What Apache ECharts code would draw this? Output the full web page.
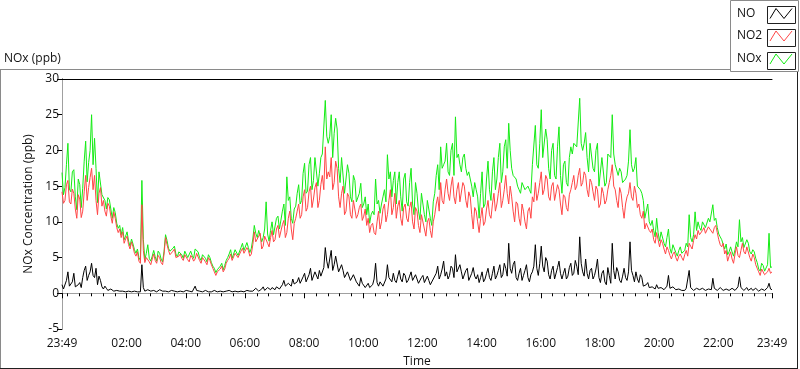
<!DOCTYPE html>
<html>
<head>
<meta charset="utf-8">
<script src="https://cdn.jsdelivr.net/npm/echarts@6/dist/echarts.min.js"></script>
<style>
html,body{margin:0;padding:0;background:#fff;}
#c{width:800px;height:369px;}
</style>
</head>
<body>
<div id="c"></div>
<script>
// Sampling: one value every 3 minutes from 23:49 (t=0) to 23:49 next day (t=1440)
const sampleStepMinutes = 3;

const seriesNames = ['NO', 'NO2', 'NOx'];

const NO = [
1.2,0.6,0.8,1.8,3.0,1.0,0.9,1.6,2.8,0.9,0.7,1.2,1.5,0.8,2.2,3.2,3.8,1.8,2.5,3.0,
4.2,2.5,2.2,3.5,1.2,2.4,1.8,0.9,0.6,1.0,0.7,0.4,0.4,0.6,0.4,0.3,0.3,0.4,0.3,0.3,
0.2,0.3,0.3,0.2,0.2,0.3,0.3,0.2,0.2,0.3,0.3,0.2,0.3,0.2,4.0,0.8,0.3,0.4,0.5,0.3,
0.3,0.2,0.4,0.3,0.2,0.4,0.5,0.3,0.3,0.2,0.3,0.4,0.2,0.3,0.4,0.2,0.3,0.3,0.2,0.4,
0.3,0.4,0.2,0.3,0.4,0.2,0.3,0.4,0.2,0.3,1.0,0.4,0.2,0.3,0.3,0.2,0.3,0.4,0.3,0.2,
0.3,0.2,0.2,0.4,0.3,0.2,0.2,0.3,0.3,0.2,0.4,0.3,0.2,0.4,0.3,0.2,0.2,0.3,0.3,0.2,
0.2,0.3,0.4,0.2,0.3,0.4,0.2,0.3,0.5,0.3,0.4,0.7,0.6,0.3,0.4,0.6,0.9,0.4,0.5,0.8,
0.6,0.5,0.8,0.6,0.5,0.9,1.0,0.6,0.7,1.2,1.8,1.0,0.9,1.4,1.5,1.0,2.0,1.3,1.2,1.6,
2.2,1.4,1.5,2.3,2.8,1.6,1.8,2.6,3.5,1.8,2.0,3.0,2.8,2.0,3.2,2.4,2.5,3.6,6.4,4.5,
3.5,4.8,6.0,3.2,4.0,5.2,5.0,3.0,2.8,4.0,3.2,2.2,2.0,3.0,2.8,1.8,1.8,2.6,2.4,1.6,
1.5,1.0,2.2,1.4,1.2,0.8,1.0,1.4,0.8,1.0,1.2,2.0,4.2,1.5,1.0,1.6,1.8,1.0,1.2,2.0,
4.0,2.2,2.0,1.6,2.8,1.8,1.5,2.4,3.2,2.0,1.6,2.8,2.5,1.5,1.8,2.4,3.0,1.8,1.6,2.6,
2.0,1.4,1.5,2.2,2.5,1.5,1.6,2.4,1.8,1.2,1.4,2.0,2.2,2.8,3.8,2.0,2.6,3.4,4.5,2.4,
3.0,2.0,2.5,3.8,3.5,2.2,5.4,3.0,2.8,4.0,3.0,2.0,2.2,3.2,3.5,1.8,2.0,2.8,3.6,2.4,
2.0,2.6,1.5,2.2,3.0,1.6,2.0,2.8,3.5,2.2,1.8,2.8,3.8,2.0,2.5,3.2,4.0,2.2,2.6,4.2,
3.5,2.4,7.0,3.5,2.8,4.0,4.5,2.2,1.8,2.8,3.5,1.8,2.5,3.2,4.0,2.2,1.6,2.6,3.0,3.8,
6.8,3.5,2.5,4.2,6.6,3.8,3.0,5.0,4.5,2.6,2.0,3.2,3.8,2.0,2.2,3.6,4.5,2.8,2.0,2.8,
3.5,2.0,2.4,3.6,4.2,2.5,2.8,4.6,3.8,2.6,7.9,4.2,3.0,2.4,4.8,2.8,2.0,3.2,3.5,2.0,
2.5,3.4,4.8,2.2,1.5,2.8,3.2,1.6,1.2,3.6,2.5,1.4,7.0,3.2,2.0,3.6,3.0,1.8,1.5,2.4,
3.5,2.2,1.8,3.0,7.2,3.2,2.5,1.6,3.0,2.0,1.5,2.6,2.2,1.0,0.8,1.2,1.5,0.8,0.6,0.9,
0.8,0.6,1.2,0.7,0.5,0.8,0.9,0.5,0.6,1.0,2.5,0.7,0.5,0.9,0.7,0.5,0.4,0.6,0.6,0.4,
0.5,0.4,0.7,0.9,3.2,0.8,0.6,0.4,0.5,0.7,0.8,0.5,0.4,0.7,0.6,0.4,0.5,0.6,0.7,0.5,
2.1,0.7,0.6,0.4,0.5,0.8,0.7,0.4,0.4,0.6,0.6,0.4,0.5,0.7,0.8,0.4,0.5,0.9,2.3,0.8,
0.6,0.4,0.6,0.8,0.4,0.6,0.7,0.4,0.5,0.7,0.6,0.3,0.4,0.6,0.5,0.4,0.6,0.8,1.4,0.6,0.5
];

const NO2 = [
14.2,12.6,13.0,15.2,15.8,12.8,12.5,14.6,14.0,11.8,10.5,13.8,13.2,10.6,11.5,14.2,16.5,13.0,14.8,16.2,
17.5,14.5,16.5,13.0,11.0,14.0,14.8,12.2,13.0,11.5,10.8,12.6,12.2,10.8,9.8,11.4,10.5,9.2,8.5,9.0,
7.8,8.6,7.0,7.6,8.0,6.8,6.2,7.2,6.5,5.6,5.2,5.8,4.5,4.2,12.4,6.0,4.3,5.0,5.2,4.4,
4.0,4.8,5.5,4.6,4.2,5.3,5.0,4.3,4.0,5.5,7.8,6.8,6.0,5.4,5.2,5.9,6.2,5.0,4.8,5.2,
5.5,4.9,4.6,5.4,5.2,4.7,4.4,5.3,5.0,4.5,4.8,5.6,5.5,4.6,4.2,5.0,5.2,4.4,4.0,5.0,
4.6,4.0,3.5,3.0,2.5,3.0,2.8,3.4,3.8,3.0,3.4,4.2,4.6,4.9,5.5,4.6,4.8,5.6,5.8,5.0,
5.2,5.9,6.3,5.6,5.4,6.4,6.0,5.2,5.5,6.8,8.6,7.2,7.0,8.0,8.4,6.2,6.6,8.0,7.8,7.0,
6.5,7.8,8.8,7.2,7.5,9.0,9.5,7.8,8.0,9.6,10.2,7.8,8.5,10.5,11.5,9.0,7.5,9.8,10.5,11.5,
12.5,10.5,11.0,13.5,14.5,11.5,12.0,14.2,15.0,12.0,13.2,14.8,15.5,12.0,13.0,15.2,16.5,14.5,20.5,16.0,
17.0,16.3,19.0,14.5,15.5,18.5,17.5,13.5,12.0,14.0,15.0,11.0,11.5,14.0,13.5,11.0,10.5,13.0,12.8,10.5,
11.0,12.0,12.5,10.2,10.8,11.8,9.5,10.5,8.5,9.5,9.8,8.5,8.2,10.0,11.5,9.0,10.0,11.8,12.5,10.0,
11.0,13.0,14.5,11.0,12.0,14.0,10.5,12.2,13.0,10.5,9.5,12.0,12.5,10.5,10.0,12.0,12.8,10.0,9.0,12.0,
11.5,9.5,8.5,11.0,10.8,9.0,8.0,10.0,10.5,8.8,7.8,10.0,11.0,12.5,13.5,11.5,15.5,13.0,12.5,14.5,
16.0,14.0,13.0,15.0,16.3,13.5,12.5,14.5,15.5,12.8,13.0,15.5,15.0,13.0,12.0,14.2,13.5,11.0,9.0,12.0,
11.5,10.0,8.5,10.5,12.0,9.5,10.0,11.8,13.0,11.0,10.5,12.5,14.0,11.5,12.5,14.0,15.5,12.0,13.0,14.5,
16.5,14.0,12.5,15.0,13.5,11.5,10.0,12.8,12.5,10.5,9.5,12.5,11.5,10.0,9.0,11.5,12.0,10.5,13.5,12.8,
15.5,13.0,14.0,15.5,17.0,13.8,14.5,16.5,16.0,13.5,13.0,15.0,15.5,13.0,12.8,15.2,14.5,12.5,11.0,13.8,
13.5,12.0,11.5,13.8,14.5,15.5,16.5,14.5,15.0,16.5,17.5,15.0,15.5,17.0,16.5,14.5,13.5,16.0,15.5,14.2,
13.0,15.0,14.5,12.0,12.5,14.8,14.0,12.5,13.0,14.5,15.5,16.5,18.0,15.0,14.5,13.0,12.0,14.8,14.0,12.0,
10.5,12.5,13.5,14.0,15.5,13.5,13.0,15.0,14.0,12.0,12.5,11.0,10.5,11.5,9.0,9.8,10.0,8.8,8.5,9.0,
7.5,7.0,8.5,7.5,6.5,7.5,7.0,6.2,5.5,6.5,6.0,5.3,4.8,5.5,5.8,5.0,4.5,5.2,5.5,5.0,
4.6,5.4,6.0,5.2,7.0,6.6,6.2,7.4,8.2,7.6,8.8,8.2,8.0,8.8,9.2,8.4,8.5,9.3,9.0,8.8,
8.4,9.2,9.5,8.5,7.5,6.8,6.5,7.0,5.5,6.0,4.5,5.2,5.8,4.8,4.2,5.5,6.5,5.3,5.0,6.0,
7.0,5.8,5.5,6.5,6.3,5.0,4.5,5.5,5.0,4.0,3.5,3.0,2.5,3.4,3.2,2.6,2.4,3.0,3.5,2.8,3.0
];

const NOx = [
16.9,13.8,14.8,18.0,21.0,14.6,14.2,17.0,17.3,13.5,11.7,16.0,15.2,12.0,14.7,18.5,21.3,15.6,18.3,20.0,
25.0,18.0,21.7,17.5,12.7,17.0,17.1,13.8,14.0,13.0,11.8,13.4,13.1,11.8,10.5,12.0,11.3,9.8,9.1,9.5,
8.2,9.2,7.5,8.0,8.6,7.3,6.6,7.6,6.9,6.1,5.6,6.2,5.0,4.6,15.8,7.5,4.7,5.6,6.8,4.9,
4.5,5.2,6.0,5.1,4.5,5.9,5.6,4.8,4.4,5.9,8.2,7.4,6.3,5.9,5.7,6.3,6.6,5.5,5.1,5.8,
5.9,5.4,4.9,5.9,5.7,5.0,4.8,5.9,5.3,4.9,6.2,6.2,5.8,5.0,4.6,5.4,5.6,4.9,4.4,5.4,
5.0,4.3,3.8,3.5,2.9,3.3,3.1,3.8,4.2,3.3,3.9,4.6,5.0,5.5,6.1,4.9,5.1,6.1,6.3,5.3,
5.5,6.4,7.0,6.0,5.8,7.1,6.4,5.7,6.3,7.6,9.5,8.4,7.8,8.8,9.0,7.2,7.8,9.0,12.8,8.3,
7.3,8.8,10.0,8.2,8.2,10.5,10.8,9.0,9.0,11.5,12.5,9.5,16.3,13.0,13.5,10.5,9.8,11.8,12.2,14.0,
15.2,12.5,13.0,16.8,18.2,14.0,14.3,18.0,19.0,14.5,15.8,19.0,18.8,15.0,16.8,19.0,19.5,19.5,27.0,22.0,
21.0,22.0,25.0,19.0,22.4,24.5,23.0,17.5,15.5,19.0,19.0,14.0,14.0,18.0,16.8,13.5,12.8,16.5,15.8,12.8,
13.0,14.0,15.4,12.0,12.5,13.5,11.0,12.5,9.8,11.0,11.5,11.0,16.0,12.5,13.0,11.2,12.5,13.5,14.5,12.8,
19.4,16.0,17.0,13.5,15.8,17.0,12.5,15.5,17.0,13.5,11.5,16.0,16.8,12.8,12.2,15.5,17.5,12.5,11.0,15.5,
14.0,11.5,10.3,14.0,14.0,11.0,10.0,13.0,13.0,10.5,9.5,12.8,14.0,16.5,18.0,14.5,20.5,17.5,18.0,18.5,
21.0,17.0,16.5,20.0,21.0,16.5,24.7,19.0,19.5,18.0,17.0,19.0,19.5,17.5,16.5,17.0,17.0,15.0,13.5,15.5,
14.5,13.5,10.5,14.0,17.0,12.0,12.5,16.0,18.5,14.5,13.0,17.0,19.0,14.5,16.0,19.0,21.0,15.5,17.0,20.5,
21.5,17.5,23.8,20.0,17.5,16.5,16.5,16.0,15.0,14.5,14.0,15.5,15.5,14.5,14.5,15.0,14.5,14.0,18.0,18.0,
23.5,18.0,17.5,21.0,25.7,19.0,19.0,23.0,21.5,17.5,16.0,20.0,21.0,16.5,16.0,20.5,23.3,16.5,14.0,18.0,
18.5,15.5,15.0,19.0,20.5,19.5,21.0,21.0,20.5,20.5,27.3,21.0,20.0,21.0,22.5,19.0,17.0,21.0,21.0,17.5,
17.0,20.0,21.0,15.0,15.0,19.0,19.0,15.0,15.5,19.5,19.5,19.0,25.0,19.5,18.0,18.0,16.5,17.5,17.0,15.5,
15.5,16.0,16.5,18.5,22.9,18.0,17.0,17.5,19.0,15.0,15.0,14.5,14.0,13.0,10.5,11.5,12.5,10.0,9.5,10.2,
8.8,7.9,10.5,8.5,7.3,8.6,8.5,7.0,6.5,7.8,9.0,6.3,5.6,6.8,7.0,5.7,5.2,6.0,6.5,5.6,
5.4,6.0,7.0,6.5,11.0,7.8,7.2,8.2,11.4,8.8,10.0,9.2,8.8,10.0,10.2,9.2,9.3,10.5,10.0,9.8,
12.4,10.2,10.5,9.2,8.3,7.9,7.5,7.6,6.2,6.9,5.4,5.8,6.5,5.8,5.2,6.1,7.2,6.5,10.3,7.2,
7.8,6.4,6.3,7.5,7.0,5.8,5.5,6.1,5.8,4.9,4.3,3.4,3.1,4.2,3.9,3.1,3.2,4.0,8.4,3.6,3.7
];

// X axis labels (minutes after 23:49) and their texts
const xLabelMinutes = [0,131,251,371,491,611,731,851,971,1091,1211,1331,1440];
const xLabelTexts = ['23:49','02:00','04:00','06:00','08:00','10:00','12:00','14:00','16:00','18:00','20:00','22:00','23:49'];

const yMin = -5, yMax = 30, yStep = 5;

const colors = {NO: '#000000', NO2: '#ff4646', NOx: '#14ec14'};

// minor ticks every 24 minutes, aligned to even hours (00:00 = minute 11)
const minorTicks = [0];
for (let m = 11; m <= 1440; m += 24) minorTicks.push(m);
minorTicks.push(1440);

function toPairs(arr) { return arr.map((v, i) => [i * sampleStepMinutes, v]); }

const FONT = 'Open Sans';
const chart = echarts.init(document.getElementById('c'), null, {renderer: 'canvas'});

const gridLeft = 62, gridTop = 79, gridRight = 28, gridBottom = 40;

// legend rows (text centre y) for NO, NO2, NOx
const legendRowCentres = [15.5, 38, 61];

function legendFor(name, idx) {
  return {
    orient: 'vertical',
    left: 737,
    top: legendRowCentres[idx] - 8,
    padding: 0,
    itemWidth: 22,
    itemHeight: 16,
    align: 'right',
    selectedMode: false,
    icon: 'path://M0,10 L6,0 L14,10 L22,0',
    data: [{name: name, itemStyle: {color: 'rgba(0,0,0,0)', borderColor: colors[name], borderWidth: 1}}],
    formatter: n => '{t|' + n + '}',
    textStyle: {
      fontFamily: FONT, fontSize: 12, color: '#111',
      rich: {t: {width: 28, align: 'left', fontFamily: FONT, fontSize: 12, color: '#111'}}
    }
  };
}

const option = {
  animation: false,
  backgroundColor: '#ffffff',
  textStyle: {fontFamily: FONT},
  grid: {left: gridLeft, top: gridTop, right: gridRight, bottom: gridBottom, containLabel: false, outerBoundsMode: 'none'},
  legend: seriesNames.map(legendFor),
  xAxis: [
    {
      type: 'value', min: 0, max: 1440, position: 'bottom',
      axisLine: {show: true, lineStyle: {color: '#a0a0a0', width: 1}},
      axisTick: {show: true, customValues: minorTicks, length: 3, lineStyle: {color: '#000'}},
      axisLabel: {
        show: true, customValues: xLabelMinutes, margin: 9,
        formatter: v => xLabelTexts[xLabelMinutes.indexOf(Math.round(v))] || '',
        fontFamily: FONT, fontSize: 12, color: '#111'
      },
      splitLine: {show: false},
      name: 'Time', nameLocation: 'middle', nameGap: 27,
      nameTextStyle: {fontFamily: FONT, fontSize: 12, color: '#111'}
    },
    {
      type: 'value', min: 0, max: 1440, position: 'bottom',
      axisLine: {show: false},
      axisTick: {show: true, customValues: xLabelMinutes, length: 5, lineStyle: {color: '#000'}},
      axisLabel: {show: false}, splitLine: {show: false}
    },
    {
      type: 'value', min: 0, max: 1440, position: 'top',
      axisLine: {show: true, lineStyle: {color: '#000', width: 1}},
      axisTick: {show: false}, axisLabel: {show: false}, splitLine: {show: false}
    }
  ],
  yAxis: [
    {
      type: 'value', min: yMin, max: yMax, interval: yStep, position: 'left',
      axisLine: {show: true, lineStyle: {color: '#000', width: 1}},
      axisTick: {show: true, length: 5, lineStyle: {color: '#000'}},
      axisLabel: {margin: 3, fontFamily: FONT, fontSize: 12, color: '#111'},
      splitLine: {show: false},
      name: 'NOx Concentration (ppb)', nameLocation: 'middle', nameGap: 20,
      nameTextStyle: {fontFamily: FONT, fontSize: 12, color: '#111'}
    },
    {
      type: 'value', min: yMin, max: yMax, interval: yStep, position: 'right',
      axisLine: {show: true, lineStyle: {color: '#a0a0a0', width: 1}},
      axisTick: {show: false}, axisLabel: {show: false}, splitLine: {show: false}
    }
  ],
  series: [
    {name: 'NOx', type: 'line', data: toPairs(NOx), showSymbol: false, symbol: 'none',
      lineStyle: {width: 1, color: colors.NOx}, itemStyle: {color: colors.NOx}, z: 2},
    {name: 'NO2', type: 'line', data: toPairs(NO2), showSymbol: false, symbol: 'none',
      lineStyle: {width: 1, color: colors.NO2}, itemStyle: {color: colors.NO2}, z: 3},
    {name: 'NO', type: 'line', data: toPairs(NO), showSymbol: false, symbol: 'none',
      lineStyle: {width: 1, color: colors.NO}, itemStyle: {color: colors.NO}, z: 4}
  ],
  graphic: [
    {type: 'text', left: 4, top: 53, style: {text: 'NOx (ppb)', font: '12px "Open Sans"', fill: '#111'}},
    // outer panel frame
    {type: 'line', shape: {x1: 0, y1: 69.5, x2: 730, y2: 69.5}, style: {stroke: '#8a8a8a', lineWidth: 1}},
    {type: 'line', shape: {x1: 0.5, y1: 69.5, x2: 0.5, y2: 368}, style: {stroke: '#8a8a8a', lineWidth: 1}},
    {type: 'line', shape: {x1: 0, y1: 368.5, x2: 798, y2: 368.5}, style: {stroke: '#202020', lineWidth: 1}},
    {type: 'line', shape: {x1: 797.5, y1: 72, x2: 797.5, y2: 369}, style: {stroke: '#202020', lineWidth: 1}},
    // legend panel and icon boxes
    {type: 'rect', z: -1, shape: {x: 730.5, y: 0.5, width: 68, height: 71}, style: {fill: '#fff', stroke: '#8a8a8a', lineWidth: 1}},
    {type: 'rect', z: -1, shape: {x: 767.5, y: 6.5, width: 28, height: 17}, style: {fill: '#fff', stroke: '#202020', lineWidth: 1}},
    {type: 'rect', z: -1, shape: {x: 767.5, y: 29.5, width: 28, height: 17}, style: {fill: '#fff', stroke: '#202020', lineWidth: 1}},
    {type: 'rect', z: -1, shape: {x: 767.5, y: 52.5, width: 28, height: 17}, style: {fill: '#fff', stroke: '#202020', lineWidth: 1}}
  ]
};
chart.setOption(option);
</script>
</body>
</html>
